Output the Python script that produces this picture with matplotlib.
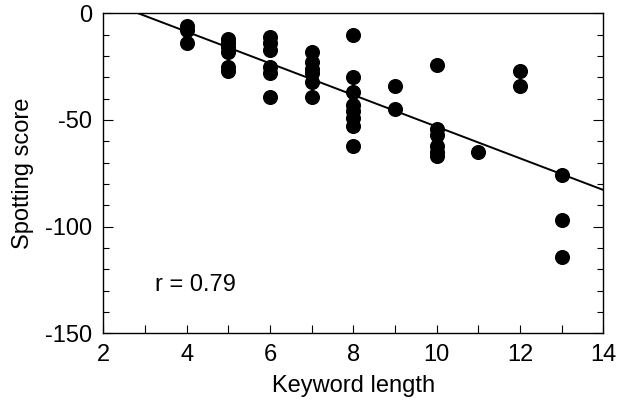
import matplotlib
matplotlib.use("Agg")
import matplotlib.pyplot as plt
import numpy as np
from matplotlib.ticker import MultipleLocator

plt.rcParams['font.family'] = ['Liberation Sans', 'DejaVu Sans']
plt.rcParams['axes.unicode_minus'] = False

# Keyword length (x) and spotting score (y)
len4 = [-6, -8, -14]
len5 = [-12, -14, -16, -18, -25, -27]
len6 = [-11, -14, -17, -25, -28, -39]
len7 = [-18, -23, -26, -28, -32, -39]
len8 = [-10, -30, -37, -43, -46, -49, -53, -62]
len9 = [-34, -45]
len10 = [-24, -54, -57, -62, -65, -67]
len11 = [-65]
len12 = [-27, -34]
len13 = [-76, -97, -114]

groups = {4: len4, 5: len5, 6: len6, 7: len7, 8: len8, 9: len9,
          10: len10, 11: len11, 12: len12, 13: len13}
xs = [k for k, v in groups.items() for _ in v]
ys = [y for v in groups.values() for y in v]

fit_slope = -7.42
fit_intercept = 21.07
r_text = "r = 0.79"

fig = plt.figure(figsize=(6.19, 4.01), dpi=100)
ax = fig.add_axes([0.1669, 0.1688, 0.9747 - 0.1669, 0.9668 - 0.1688])

ax.scatter(xs, ys, s=118, color='black', zorder=3, linewidths=0)
lx = np.array([2.0, 14.0])
ax.plot(lx, fit_slope * lx + fit_intercept, color='black', lw=1.4, zorder=2)

ax.set_xlim(2, 14)
ax.set_ylim(-150, 0)
ax.xaxis.set_major_locator(MultipleLocator(2))
ax.xaxis.set_minor_locator(MultipleLocator(1))
ax.yaxis.set_major_locator(MultipleLocator(50))
ax.yaxis.set_minor_locator(MultipleLocator(10))

ax.tick_params(axis='x', which='both', direction='in', length=5.8, width=0.8,
               top=False, labelsize=17, pad=8)
ax.tick_params(axis='y', which='major', direction='in', length=7, width=0.8,
               left=True, right=True, labelsize=17, pad=8)
ax.tick_params(axis='y', which='minor', direction='in', length=4.5, width=0.8,
               left=True, right=True)
for sp in ax.spines.values():
    sp.set_linewidth(1.0)

ax.set_xlabel("Keyword length", fontsize=17, labelpad=6)
ax.set_ylabel("Spotting score", fontsize=17, labelpad=8)

ax.text(3.25, -127.5, r_text, fontsize=17, ha='left', va='center')

fig.savefig("out.png", dpi=100)
